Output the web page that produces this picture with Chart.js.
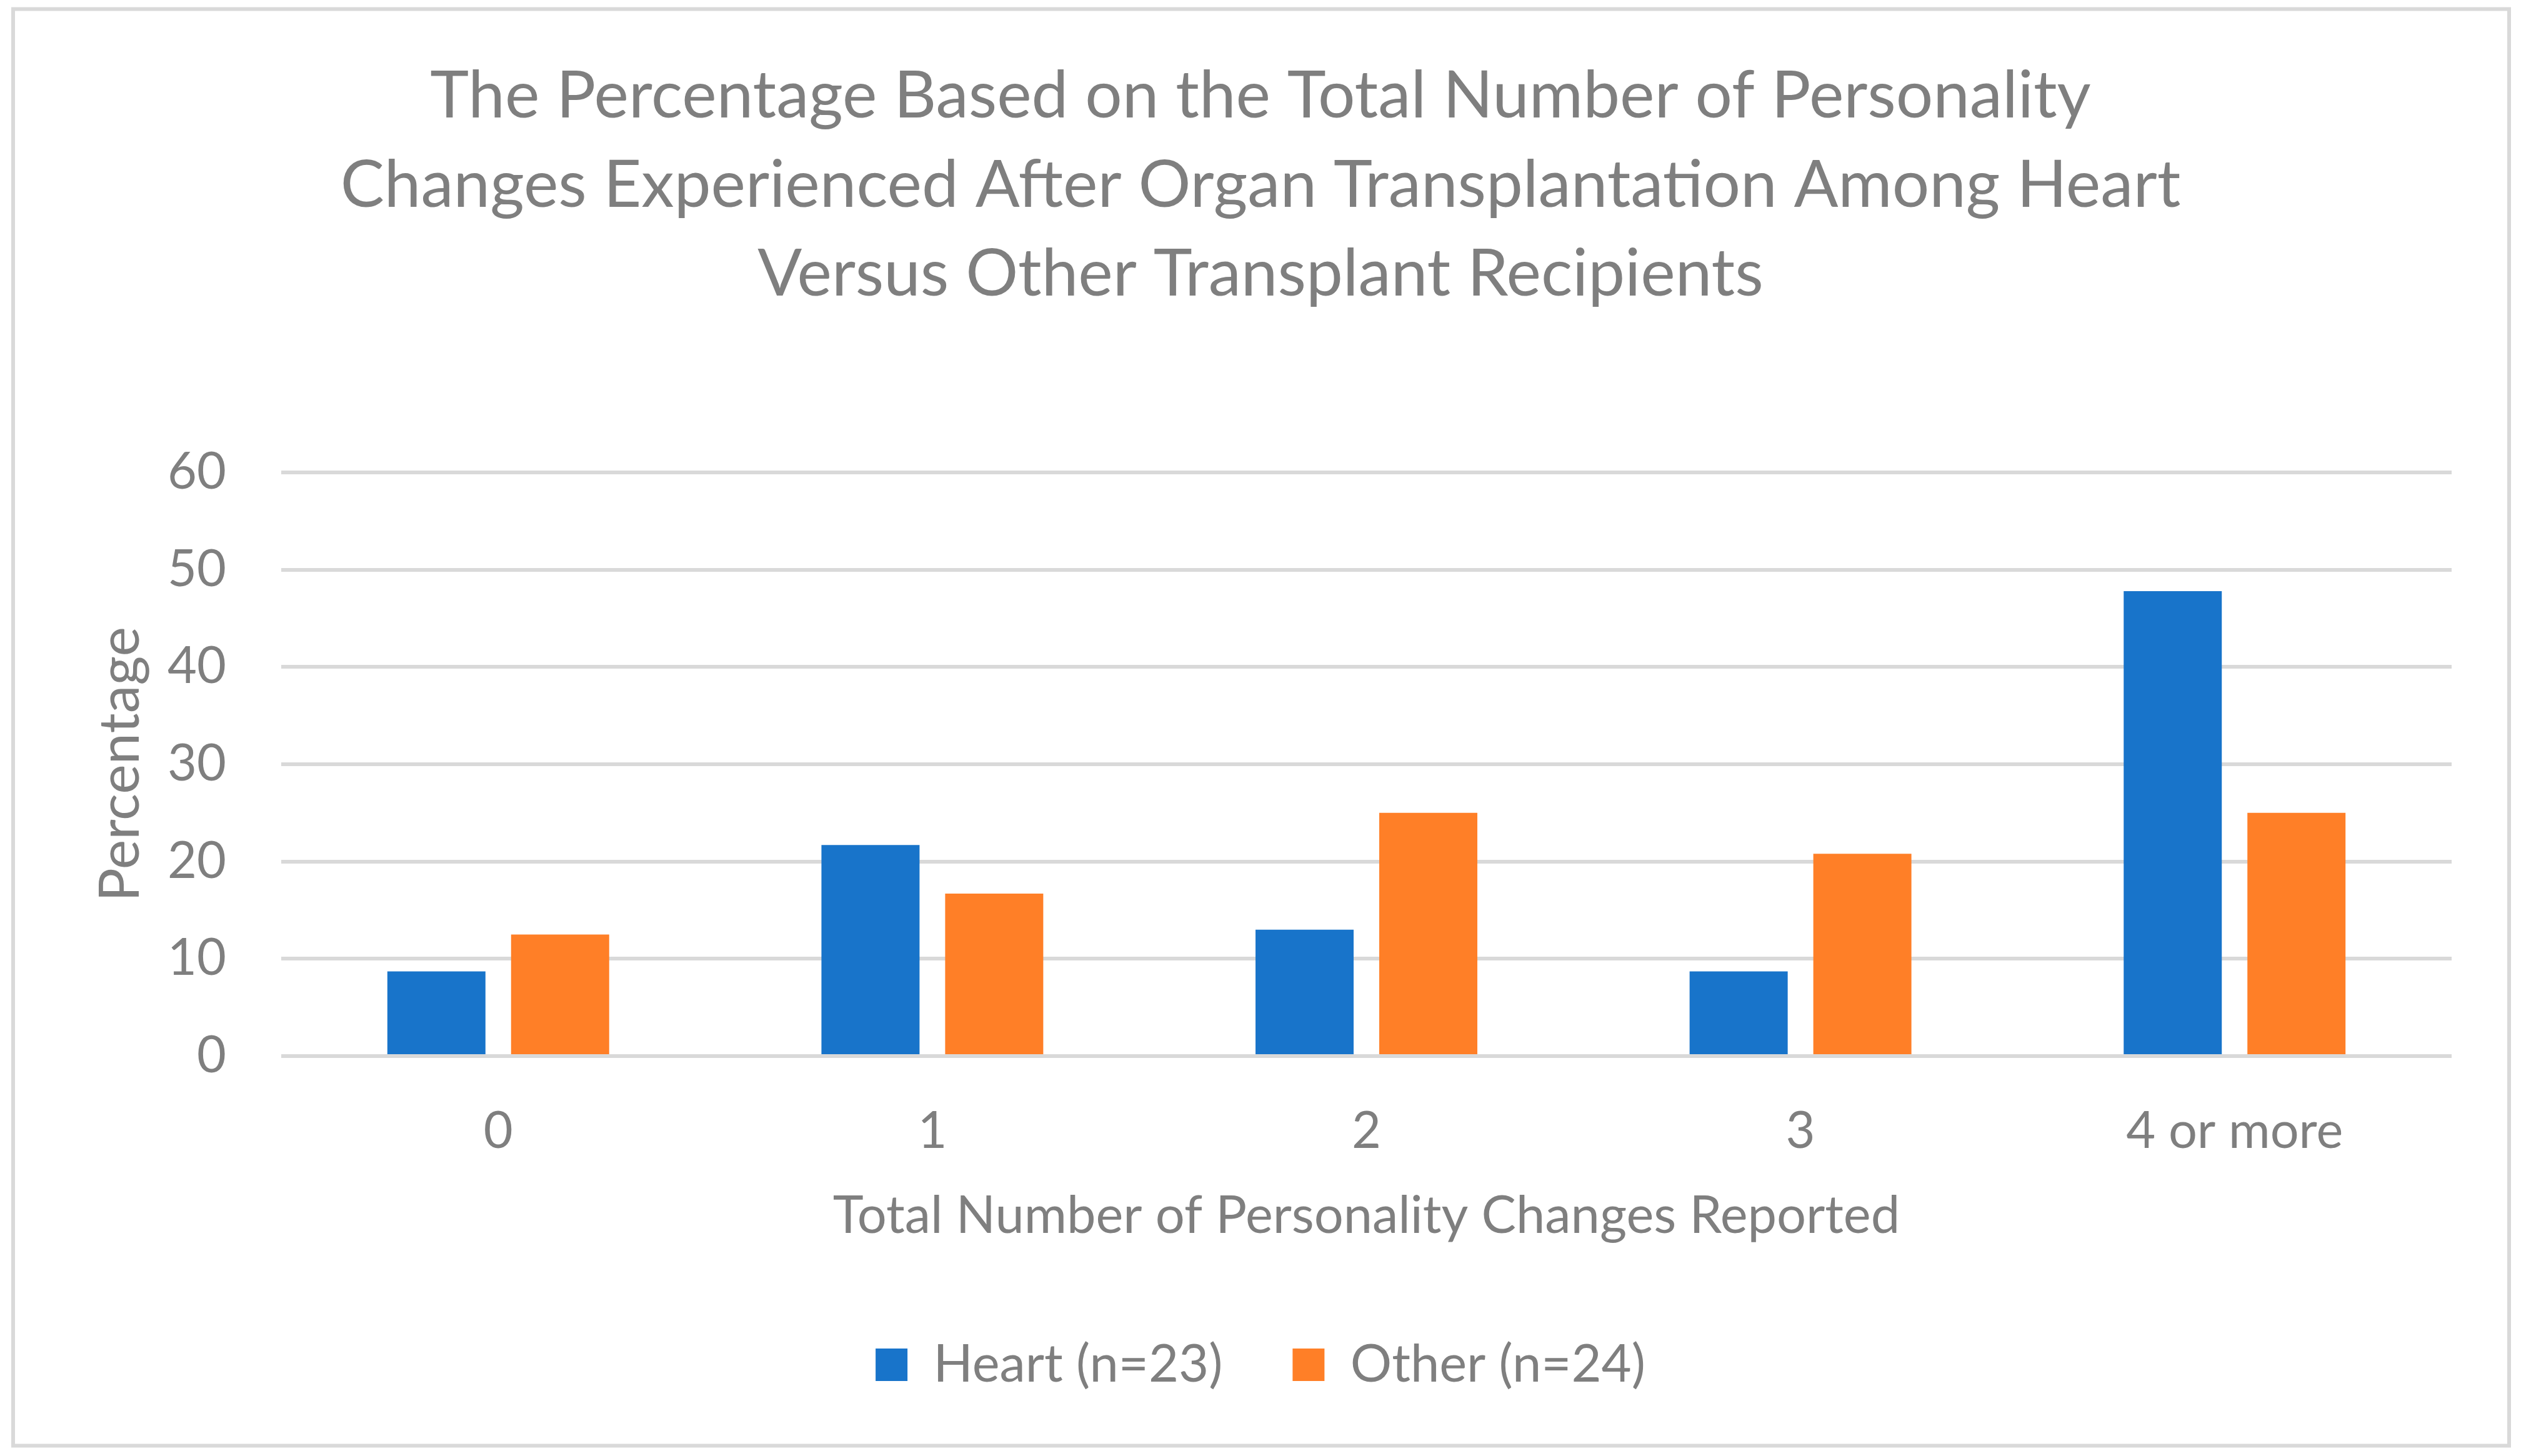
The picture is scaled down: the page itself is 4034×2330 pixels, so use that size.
<!DOCTYPE html>
<html>
<head>
<meta charset="utf-8">
<script src="https://cdn.jsdelivr.net/npm/chart.js@4.4.1/dist/chart.umd.min.js"></script>
<style>
  html, body { margin: 0; padding: 0; background: #ffffff; }
  #wrap { width: 4034px; height: 2330px; position: relative; }
</style>
</head>
<body>
<div id="wrap"><canvas id="c"></canvas></div>
<script>
// ---- data ----
const categories = ['0', '1', '2', '3', '4 or more'];
const heartValues = [8.7, 21.7, 13.0, 8.7, 47.8];
const otherValues = [12.5, 16.7, 25.0, 20.8, 25.0];
const seriesLabels = ['Heart (n=23)', 'Other (n=24)'];
const titleLines = [
  'The Percentage Based on the Total Number of Personality',
  'Changes Experienced After Organ Transplantation Among Heart',
  'Versus Other Transplant Recipients'
];
const xAxisTitle = 'Total Number of Personality Changes Reported';
const yAxisTitle = 'Percentage';
const yMin = 0, yMax = 60, yStep = 10;

// ---- styles ----
const heartColor = '#1874CA';
const otherColor = '#FF7F27';
const textColor = '#7f7f7f';
const gridColor = '#d9d9d9';
const fontFamily = 'Lato, Carlito, "Open Sans", sans-serif';

const framePlugin = {
  id: 'frame',
  beforeDraw(chart) {
    const ctx = chart.ctx;
    ctx.save();
    ctx.fillStyle = '#ffffff';
    ctx.fillRect(0, 0, chart.width, chart.height);
    ctx.strokeStyle = gridColor;
    ctx.lineWidth = 6;
    ctx.strokeRect(21, 14.5, 3994, 2299);
    ctx.restore();
  }
};

new Chart(document.getElementById('c'), {
  type: 'bar',
  data: {
    labels: categories,
    datasets: [
      { label: seriesLabels[0], data: heartValues, backgroundColor: heartColor,
        categoryPercentage: 0.57, barPercentage: 0.793 },
      { label: seriesLabels[1], data: otherValues, backgroundColor: otherColor,
        categoryPercentage: 0.57, barPercentage: 0.793 }
    ]
  },
  options: {
    responsive: true,
    maintainAspectRatio: false,
    devicePixelRatio: 1,
    animation: false,
    layout: { padding: { top: 0, left: 20, right: 20, bottom: 94.5 } },
    plugins: {
      title: {
        display: true,
        text: titleLines,
        color: textColor,
        align: 'center',
        font: { family: fontFamily, size: 105, weight: 'normal', lineHeight: 1.359 },
        padding: { top: 82.6, bottom: 245.3 }
      },
      legend: {
        position: 'bottom',
        labels: {
          color: textColor,
          font: { family: fontFamily, size: 83, weight: 'normal' },
          boxWidth: 51,
          boxHeight: 52,
          padding: 112
        }
      },
      tooltip: { enabled: false }
    },
    scales: {
      x: {
        grid: { display: false, drawTicks: false },
        border: { display: false },
        ticks: { color: textColor, font: { family: fontFamily, size: 81 }, padding: 72.4 },
        title: {
          display: true, text: xAxisTitle, color: textColor,
          font: { family: fontFamily, size: 83, weight: 'normal' },
          padding: { top: 0, bottom: 34.3 }
        },
        afterFit(s) { s.height = 340.5; }
      },
      y: {
        min: yMin, max: yMax,
        ticks: { stepSize: yStep, color: textColor, font: { family: fontFamily, size: 81 }, padding: 88 },
        grid: { color: gridColor, lineWidth: 6, drawTicks: false },
        border: { display: false },
        title: {
          display: true, text: yAxisTitle, color: textColor,
          font: { family: fontFamily, size: 90, weight: 'normal' },
          padding: { top: 119, bottom: 0 }
        },
        afterFit(s) { s.width = 430; }
      },
      y2: {
        position: 'right',
        display: true,
        grid: { display: false, drawTicks: false },
        ticks: { display: false },
        border: { display: false },
        afterFit(s) { s.width = 91; }
      }
    }
  },
  plugins: [framePlugin]
});
</script>
</body>
</html>
